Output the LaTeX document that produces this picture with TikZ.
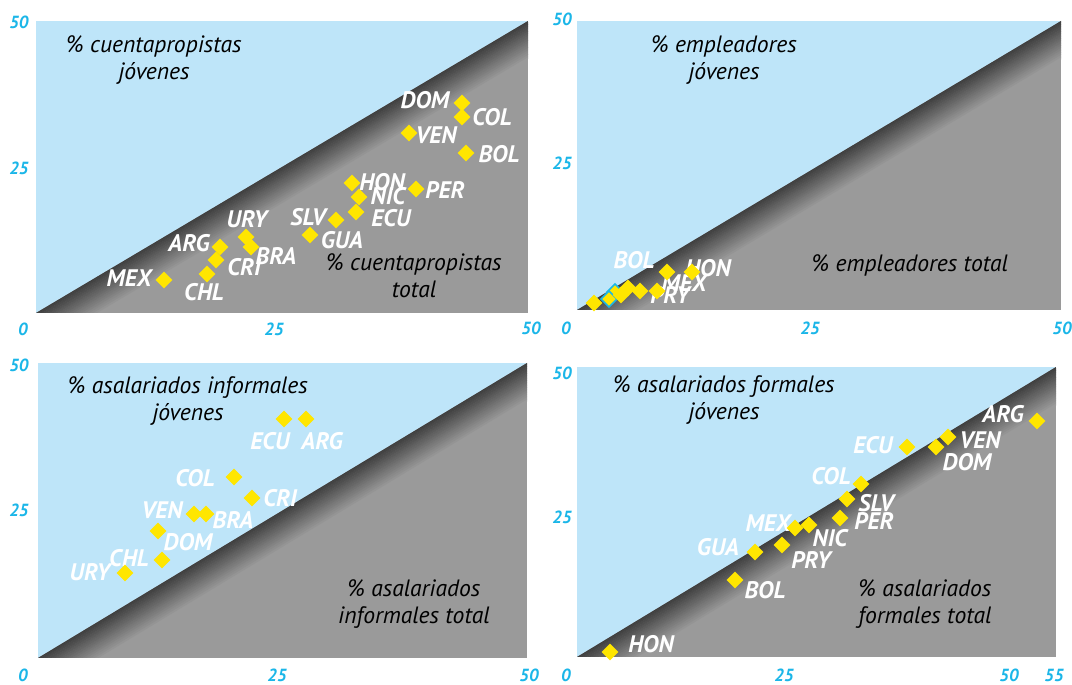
\documentclass[tikz,border=0pt]{standalone}
\usepackage{fontspec}
\setmainfont{PT Sans}
\usetikzlibrary{shapes.geometric, calc}

\definecolor{skyblue}{RGB}{190,229,249}
\definecolor{midgrey}{RGB}{154,154,154}
\definecolor{darkgrey}{RGB}{62,62,62}
\definecolor{ptyellow}{RGB}{255,230,0}
\definecolor{axiscyan}{RGB}{27,182,232}

\tikzset{
  ctrydot/.style={diamond, fill=ptyellow, inner sep=0pt, minimum size=0.42cm},
  ctry/.style={text=white, font=\fontsize{17}{20}\selectfont\bfseries\itshape, inner sep=0pt},
  ttl/.style={font=\fontsize{16.8}{19.2}\selectfont\itshape, align=center, inner sep=0pt},
  axnum/.style={text=axiscyan, font=\fontsize{12.5}{15}\selectfont\bfseries\itshape, inner sep=0pt}
}

\begin{document}
\begin{tikzpicture}[x=0.025cm, y=0.025cm]
\useasboundingbox (0,0) rectangle (1072,684);

% four panels: blue box, grey triangle, dark band along the diagonal
\foreach \xa/\ya/\xb/\yb in {36/371/528/663, 577/374/1061/663, 38/26/527/321, 577/27/1056/317} {
    \fill[skyblue] (\xa,\ya) rectangle (\xb,\yb);
    \begin{scope}
        \clip (\xa,\ya) -- (\xb,\ya) -- (\xb,\yb) -- cycle;
        \fill[midgrey] (\xa,\ya) rectangle (\xb,\yb);
        \foreach \i in {16,...,0} {
            \pgfmathsetmacro\p{100*\i/16}
            \pgfmathsetlengthmacro\d{0.05cm*\i}
            \draw[line width=0.056cm, color=midgrey!\p!darkgrey]
                ($(\xa,\ya)!\d!-90:(\xb,\yb)$) -- ($(\xb,\yb)!\d!90:(\xa,\ya)$);
        }
    \end{scope}
}

% axis numbers
\foreach \x/\y/\t in {19/662/50, 19/516/25, 23/355/0, 274/355/25, 531/356/50,
        562/665/50, 562/521/25, 566/356/0, 810/356/25, 1062/356/50,
        19/319/50, 19/174/25, 23/9/0, 277/9/25, 529/9/50,
        562/311/50, 562/167/25, 566/9/0, 784/9/25, 1009/9/50, 1054/9/55} {
    \node[axnum] (ax-\x-\y) at (\x,\y) {\t};
}

% titles
\node[ttl] (c-top) at (154,624) {\% cuentapropistas\\jóvenes};
\node[ttl] (c-bot) at (414,408) {\% cuentapropistas\\total};
\node[ttl] (e-top) at (724,624) {\% empleadores\\jóvenes};
\node[ttl] (e-bot) at (910,419) {\% empleadores total};
\node[ttl] (i-top) at (188,283) {\% asalariados informales\\jóvenes};
\node[ttl] (i-bot) at (414,80) {\% asalariados\\informales total};
\node[ttl] (f-top) at (724,284) {\% asalariados formales\\jóvenes};
\node[ttl] (f-bot) at (925,80) {\% asalariados\\formales total};

% countries: point x/y, name, label x/y
\def\cuenta{462/581/DOM/425/584, 462/567/COL/492/567, 409/551/VEN/436/549,
    466/531/BOL/499/530, 352/501/HON/382/502, 416/495/PER/445/494,
    359/487/NIC/388/488, 356/472/ECU/391/466, 336/464/SLV/308/467,
    310/449/GUA/342/444, 246/447/URY/247/465, 251/437/BRA/276/428,
    220/437/ARG/189/441, 216/424/CRI/244/417, 207/410/CHL/204/392,
    164/404/MEX/129/406}
\def\informal{284/265/ECU/270/243, 306/265/ARG/322/243, 234/207/COL/195/206,
    252/186/CRI/280/186, 194/170/VEN/162/174, 206/170/BRA/233/164,
    158/153/DOM/188/142, 162/124/CHL/129/126, 125/111/URY/90/112}
\def\formal{1037/263/ARG/1003/270, 948/247/VEN/980/244, 936/237/DOM/967/222,
    907/237/ECU/873/239, 861/200/COL/831/208, 847/185/SLV/876/181,
    840/166/PER/874/163, 809/159/NIC/830/146, 795/156/MEX/768/161,
    782/139/PRY/811/124, 755/132/GUA/718/137, 735/104/BOL/765/94,
    610/32/HON/651/40}

\foreach \x/\y/\n/\lx/\ly in \cuenta {\node[ctry] (c-\n-l) at (\lx,\ly) {\n};}
\foreach \x/\y/\n/\lx/\ly in \cuenta {\node[ctrydot] (c-\n) at (\x,\y) {};}
\foreach \x/\y/\n/\lx/\ly in \informal {\node[ctry] (i-\n-l) at (\lx,\ly) {\n};}
\foreach \x/\y/\n/\lx/\ly in \informal {\node[ctrydot] (i-\n) at (\x,\y) {};}
\foreach \x/\y/\n/\lx/\ly in \formal {\node[ctry] (f-\n-l) at (\lx,\ly) {\n};}
\foreach \x/\y/\n/\lx/\ly in \formal {\node[ctrydot] (f-\n) at (\x,\y) {};}

% empleadores: crowded corner
\foreach \lx/\ly/\n in {634/424/BOL, 708/416/HON, 684/401/MEX, 670/389/PRY} {
    \node[ctry] (e-\n-l) at (\lx,\ly) {\n};
}
\node[ctrydot, draw=axiscyan, line width=0.04cm] (e-c2) at (615,392) {};
\node[ctrydot, draw=axiscyan, line width=0.04cm] (e-c1) at (609,385) {};
\foreach \x/\y [count=\k] in {594/381, 621/389, 628/396, 640/393, 657/393, 667/412, 692/412} {
    \node[ctrydot] (e-\k) at (\x,\y) {};
}
\end{tikzpicture}
\end{document}
